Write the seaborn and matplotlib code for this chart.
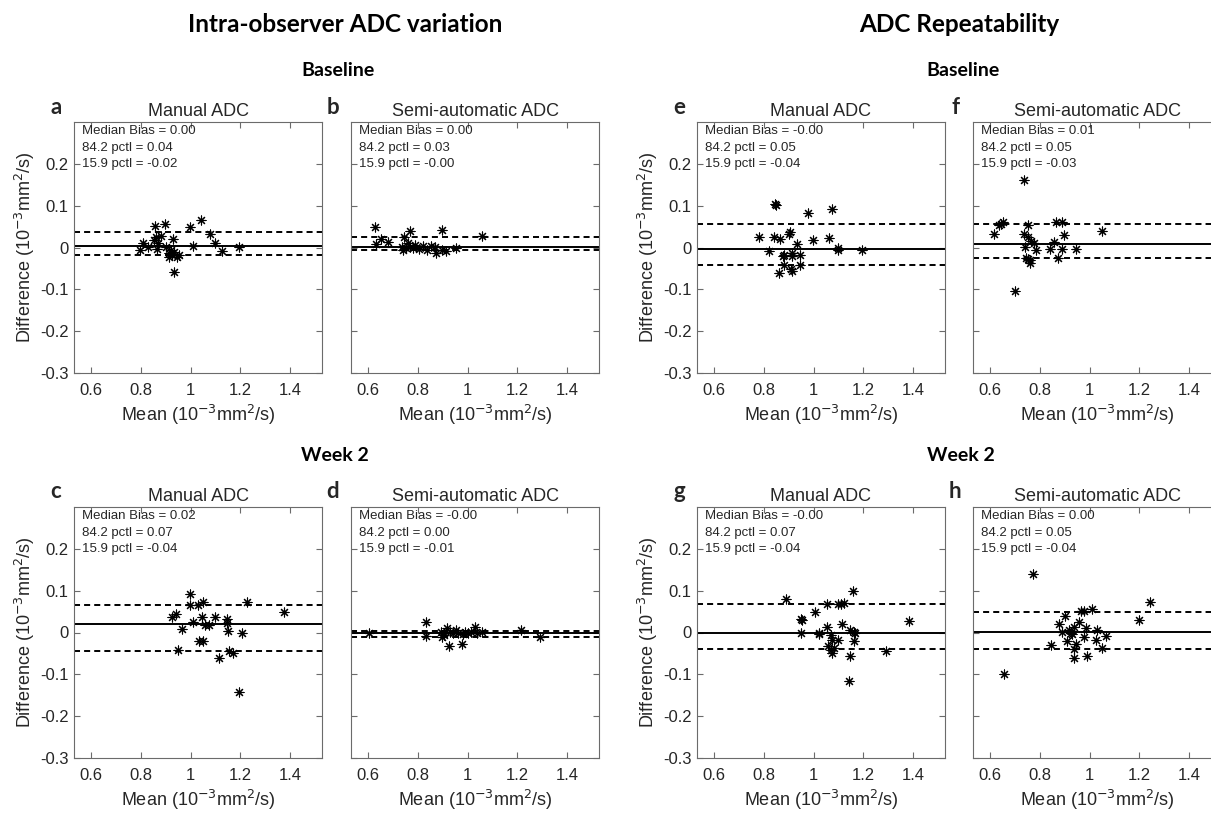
import matplotlib
matplotlib.use('Agg')

import matplotlib.pyplot as plt
import seaborn as sns
import numpy as np

# Bland-Altman style panels: mean vs difference (10^-3 mm^2/s)

# a - intra-observer, baseline, manual
a_mean = [0.795, 0.809, 0.829, 0.857, 0.853, 0.860, 0.868, 0.865, 0.881, 0.895, 0.902,
          0.915, 0.930, 0.922, 0.925, 0.933, 0.946, 0.933, 0.997, 1.008, 1.042, 1.077,
          1.098, 1.126, 1.197, 0.915, 0.953]
a_diff = [-0.007, 0.010, 0.002, 0.052, 0.018, 0.026, 0.010, -0.004, 0.028, 0.057, 0.002,
          -0.014, 0.020, -0.006, -0.019, -0.010, -0.022, -0.058, 0.048, 0.003, 0.065, 0.033,
          0.010, -0.008, 0.002, -0.022, -0.018]
a_lines = [0.0024, 0.036, -0.018]
a_stats = ['0.00', '0.04', '-0.02']

# b - intra-observer, baseline, semi-automatic
b_mean = [0.626, 0.631, 0.650, 0.678, 0.743, 0.766, 0.735, 0.750, 0.766, 0.781, 0.789,
          0.805, 0.820, 0.836, 0.854, 0.867, 0.874, 0.898, 0.898, 0.913, 0.952, 1.060,
          0.740, 0.758]
b_diff = [0.048, 0.008, 0.021, 0.014, 0.026, 0.040, 0.002, -0.002, 0.002, -0.002, 0.006,
          -0.004, 0.004, -0.006, 0.004, 0.002, -0.012, 0.042, -0.006, -0.009, -0.002, 0.028,
          -0.006, 0.010]
b_lines = [0.0016, 0.026, -0.005]
b_stats = ['0.00', '0.03', '-0.00']

# c - intra-observer, week 2, manual
c_mean = [0.927, 0.940, 0.949, 0.964, 0.997, 0.997, 1.008, 1.031, 1.034, 1.046, 1.051,
          1.051, 1.057, 1.073, 1.098, 1.113, 1.147, 1.147, 1.150, 1.157, 1.171, 1.194,
          1.209, 1.229, 1.375]
c_diff = [0.036, 0.045, -0.043, 0.008, 0.092, 0.066, 0.025, 0.066, -0.020, 0.036, 0.074,
          -0.020, 0.017, 0.018, 0.037, -0.062, 0.032, 0.022, 0.004, -0.045, -0.050, -0.142,
          0.000, 0.072, 0.049]
c_lines = [0.020, 0.066, -0.044]
c_stats = ['0.02', '0.07', '-0.04']

# d - intra-observer, week 2, semi-automatic
d_mean = [0.603, 0.833, 0.833, 0.895, 0.905, 0.918, 0.925, 0.929, 0.941, 0.952, 0.963,
          0.978, 0.983, 0.991, 1.003, 1.014, 1.029, 1.037, 1.060, 1.216, 1.293, 0.892,
          0.907]
d_diff = [0.000, 0.024, -0.008, -0.010, -0.002, 0.010, -0.032, 0.002, 0.000, 0.005, -0.002,
          -0.028, -0.003, 0.001, -0.002, 0.002, 0.014, -0.002, 0.001, 0.005, -0.010, 0.002,
          -0.006]
d_lines = [0.000, 0.003, -0.010]
d_stats = ['-0.00', '0.00', '-0.01']

# e - repeatability, baseline, manual
e_mean = [0.780, 0.822, 0.842, 0.845, 0.848, 0.866, 0.861, 0.880, 0.877, 0.880, 0.903,
          0.900, 0.913, 0.913, 0.911, 0.913, 0.934, 0.947, 0.947, 0.978, 0.998, 1.061,
          1.073, 1.098, 1.098, 1.197]
e_diff = [0.026, -0.009, 0.026, 0.105, 0.102, 0.020, -0.060, -0.017, -0.021, -0.042, 0.036,
          0.033, -0.012, -0.020, -0.052, -0.057, 0.008, -0.018, -0.042, 0.083, 0.017, 0.022,
          0.093, 0.000, -0.006, -0.005]
e_lines = [-0.0024, 0.055, -0.042]
e_stats = ['-0.00', '0.05', '-0.04']

# f - repeatability, baseline, semi-automatic
f_mean = [0.614, 0.635, 0.650, 0.643, 0.701, 0.734, 0.737, 0.750, 0.753, 0.740, 0.745,
          0.761, 0.761, 0.765, 0.776, 0.784, 0.750, 0.839, 0.858, 0.863, 0.871, 0.887,
          0.890, 0.898, 0.945, 1.052]
f_diff = [0.032, 0.053, 0.060, 0.056, -0.105, 0.161, 0.032, 0.054, 0.024, 0.002, -0.026,
          -0.029, -0.036, 0.016, 0.010, -0.006, -0.028, -0.004, 0.012, 0.060, -0.026, 0.060,
          -0.004, 0.031, -0.004, 0.040]
f_lines = [0.0095, 0.056, -0.025]
f_stats = ['0.01', '0.05', '-0.03']

# g - repeatability, week 2, manual
g_mean = [0.889, 0.950, 0.953, 0.949, 1.004, 1.023, 1.020, 1.054, 1.054, 1.058, 1.072,
          1.074, 1.074, 1.081, 1.072, 1.099, 1.099, 1.112, 1.123, 1.115, 1.145, 1.159,
          1.162, 1.166, 1.162, 1.145, 1.142, 1.291, 1.385]
g_diff = [0.079, 0.032, 0.029, 0.000, 0.050, -0.004, -0.002, 0.067, 0.013, -0.033, -0.006,
          -0.017, -0.049, -0.036, -0.043, 0.067, -0.019, 0.067, 0.070, 0.020, 0.006, 0.100,
          0.002, 0.000, -0.021, -0.055, -0.117, -0.045, 0.028]
g_lines = [0.000, 0.067, -0.039]
g_stats = ['-0.00', '0.07', '-0.04']

# h - repeatability, week 2, semi-automatic
h_mean = [0.773, 0.655, 0.843, 0.877, 0.888, 0.901, 0.910, 0.917, 0.924, 0.928, 0.937,
          0.937, 0.936, 0.946, 0.957, 0.964, 0.977, 0.977, 0.987, 0.991, 1.008, 1.027,
          1.031, 1.049, 1.068, 1.200, 1.245]
h_diff = [0.141, -0.099, -0.031, 0.020, 0.002, 0.040, -0.021, 0.006, 0.000, -0.003, 0.014,
          -0.040, -0.060, -0.027, 0.026, 0.052, 0.052, -0.010, 0.010, -0.057, 0.056, -0.017,
          0.006, -0.038, -0.008, 0.030, 0.072]
h_lines = [0.002, 0.050, -0.039]
h_stats = ['0.00', '0.05', '-0.04']

x_ticks = [0.6, 0.8, 1.0, 1.2, 1.4]
x_tick_labels = ['0.6', '0.8', '1', '1.2', '1.4']
y_ticks = [-0.3, -0.2, -0.1, 0.0, 0.1, 0.2]
y_tick_labels = ['-0.3', '-0.2', '-0.1', '0', '0.1', '0.2']

sns.set_style('white')
plt.rcParams['font.family'] = ['Liberation Sans', 'DejaVu Sans']
plt.rcParams['axes.unicode_minus'] = False

W, H = 1211, 814
fig = plt.figure(figsize=(W / 100, H / 100), dpi=100)

AX_W, AX_H = 248, 251
GREY = '#6b6b6b'
TXT = '#262626'


def add_panel(left_px, top_px, letter, title, xs, ys, lines, stats, ylabel):
    ax = fig.add_axes([left_px / W, 1 - (top_px + AX_H) / H, AX_W / W, AX_H / H])
    sns.scatterplot(x=xs, y=ys, ax=ax, marker=(8, 2, 0), s=42, color='black',
                    linewidth=0.8, legend=False)
    ax.axhline(lines[0], color='black', lw=1.4)
    ax.axhline(lines[1], color='black', lw=1.4, ls=(0, (3.1, 2.1)))
    ax.axhline(lines[2], color='black', lw=1.4, ls=(0, (3.1, 2.1)))

    ax.set_xlim(0.53, 1.53)
    ax.set_ylim(-0.3, 0.3)
    ax.set_xticks(x_ticks)
    ax.set_xticklabels(x_tick_labels)
    ax.set_yticks(y_ticks)
    if ylabel:
        ax.set_yticklabels(y_tick_labels)
        ax.set_ylabel('Difference (10$^{-3}$mm$^2$/s)', fontsize=13, color=TXT, labelpad=2)
    else:
        ax.set_yticklabels([])
    ax.set_xlabel('Mean (10$^{-3}$mm$^2$/s)', fontsize=13, color=TXT, labelpad=4)
    ax.tick_params(direction='in', length=4, width=0.8, color=GREY, labelcolor=TXT,
                   labelsize=12, top=True, right=True, left=True, bottom=True)
    ax.tick_params(axis='x', pad=7)
    ax.tick_params(axis='y', pad=4)
    for sp in ax.spines.values():
        sp.set_color(GREY)
        sp.set_linewidth(0.8)
        sp.set_visible(True)

    ax.set_title(title, fontsize=13, color=TXT, pad=4)
    labels = ['Median Bias = ', '84.2 pctl = ', '15.9 pctl = ']
    for i, (lab, val) in enumerate(zip(labels, stats)):
        ax.text(0.032, 0.963 - i * 0.066, lab + val, transform=ax.transAxes,
                fontsize=9.5, color=TXT, va='center', ha='left')
    fig.text((left_px - 18) / W, 1 - (top_px - 15) / H, letter, fontsize=16,
             fontweight='bold', family='Lato', ha='center', va='center')
    return ax


TOP1, TOP2 = 122, 507
COLS = [74, 351, 697, 973]

add_panel(COLS[0], TOP1, 'a', 'Manual ADC', a_mean, a_diff, a_lines, a_stats, True)
add_panel(COLS[1], TOP1, 'b', 'Semi-automatic ADC', b_mean, b_diff, b_lines, b_stats, False)
add_panel(COLS[0], TOP2, 'c', 'Manual ADC', c_mean, c_diff, c_lines, c_stats, True)
add_panel(COLS[1], TOP2, 'd', 'Semi-automatic ADC', d_mean, d_diff, d_lines, d_stats, False)
add_panel(COLS[2], TOP1, 'e', 'Manual ADC', e_mean, e_diff, e_lines, e_stats, True)
add_panel(COLS[3], TOP1, 'f', 'Semi-automatic ADC', f_mean, f_diff, f_lines, f_stats, False)
add_panel(COLS[2], TOP2, 'g', 'Manual ADC', g_mean, g_diff, g_lines, g_stats, True)
add_panel(COLS[3], TOP2, 'h', 'Semi-automatic ADC', h_mean, h_diff, h_lines, h_stats, False)

# section headers
hdr = dict(fontweight='bold', family='Lato', ha='center', va='center', color='black')
fig.text(345 / W, 1 - 25 / H, 'Intra-observer ADC variation', fontsize=17.5, **hdr)
fig.text(959 / W, 1 - 25 / H, 'ADC Repeatability', fontsize=17.5, **hdr)
fig.text(338 / W, 1 - 70 / H, 'Baseline', fontsize=14, **hdr)
fig.text(963 / W, 1 - 70 / H, 'Baseline', fontsize=14, **hdr)
fig.text(335 / W, 1 - 455 / H, 'Week 2', fontsize=14, **hdr)
fig.text(961 / W, 1 - 455 / H, 'Week 2', fontsize=14, **hdr)

fig.savefig('out.png', dpi=100, facecolor='white')
